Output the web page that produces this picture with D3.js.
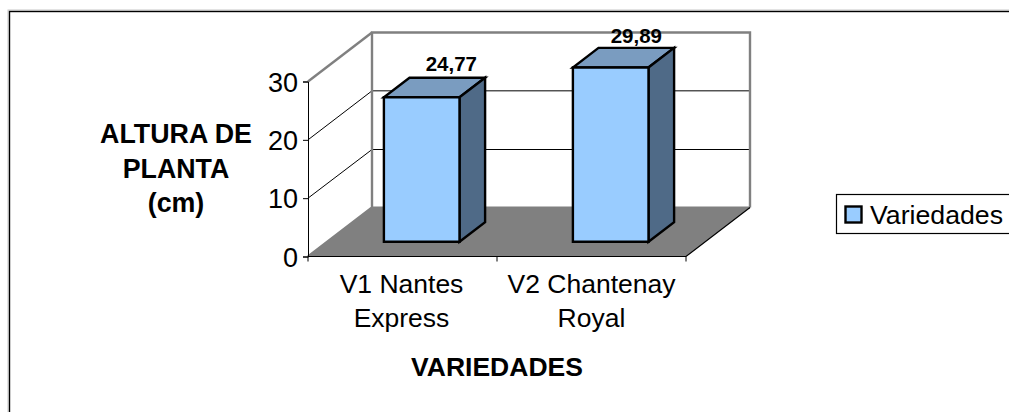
<!DOCTYPE html>
<html>
<head>
<meta charset="utf-8">
<script src="https://cdn.jsdelivr.net/npm/d3@7/dist/d3.min.js"></script>
<style>
  html, body { margin: 0; padding: 0; background: #fff; }
  svg { display: block; }
  text { font-family: "Liberation Sans", Arial, sans-serif; fill: #000; }
</style>
</head>
<body>
<div id="chart-area"></div>
<script>
var categories = [["V1 Nantes", "Express"], ["V2 Chantenay", "Royal"]];
var values = [24.77, 29.89];
var valueLabels = ["24,77", "29,89"];
var yTicks = [0, 10, 20, 30];
var yTitle = ["ALTURA DE", "PLANTA", "(cm)"];
var xTitle = "VARIEDADES";
var seriesName = "Variedades";

var width = 1009, height = 412;

var svg = d3.select("#chart-area").append("svg")
    .attr("width", width)
    .attr("height", height);

// chart border, runs off the right and bottom of the picture
svg.append("rect")
    .attr("x", 8).attr("y", 10)
    .attr("width", 1100).attr("height", 500)
    .attr("fill", "none").attr("stroke", "#c8c8c8").attr("stroke-width", 1);
svg.append("rect")
    .attr("x", 9.5).attr("y", 11.5)
    .attr("width", 1100).attr("height", 500)
    .attr("fill", "#fff").attr("stroke", "#000").attr("stroke-width", 1.4);

var x = d3.scaleBand()
    .domain(d3.range(categories.length))
    .range([308, 686])
    .paddingInner(0).paddingOuter(0);

var y = d3.scaleLinear().domain([0, 30]).range([256.5, 81.5]);

// the 3d depth: 0 is the front of the floor, 1 the back wall
var depthX = d3.scaleLinear().domain([0, 1]).range([0, 64]);
var depthY = d3.scaleLinear().domain([0, 1]).range([0, -49]);

function pt(px, v, d) {
  return [px + depthX(d), y(v) + depthY(d)];
}
var poly = function(points) { return points.map(function(p) { return p.join(","); }).join(" "); };

var x0 = x.range()[0], x1 = x.range()[1];

// back wall and floor
svg.append("polygon")
    .attr("points", poly([pt(x0, 0, 0), pt(x1, 0, 0), pt(x1, 0, 1), pt(x0, 0, 1)]))
    .attr("fill", "#808080");

// gridlines, the 10 line sits crisp on the pixel grid, the 20 one does not
[10, 20].forEach(function(t) {
  var a = pt(x0, t, 0), b = pt(x0, t, 1), c = pt(x1, t, 1);
  if (t === 10) { b[1] = Math.floor(b[1]) + 0.5; c[1] = b[1]; }
  svg.append("polyline")
      .attr("points", poly([a, b, c]))
      .attr("fill", "none").attr("stroke", "#000").attr("stroke-width", 1);
});

svg.append("polyline")
    .attr("points", poly([pt(x0, 0, 0), pt(x0, 0, 1), pt(x0, 30, 1), pt(x1, 30, 1), pt(x1, 0, 1)]))
    .attr("fill", "none").attr("stroke", "#808080").attr("stroke-width", 2.4);
svg.append("line")
    .attr("x1", pt(x0, 30, 0)[0]).attr("y1", pt(x0, 30, 0)[1])
    .attr("x2", pt(x0, 30, 1)[0]).attr("y2", pt(x0, 30, 1)[1])
    .attr("stroke", "#808080").attr("stroke-width", 2.4);
svg.append("line")
    .attr("x1", pt(x0, 0, 1)[0]).attr("y1", pt(x0, 0, 1)[1])
    .attr("x2", x1 + depthX(1)).attr("y2", pt(x0, 0, 1)[1])
    .attr("stroke", "#808080").attr("stroke-width", 2);

// front edges of the floor
svg.append("polyline")
    .attr("points", poly([pt(x0, 0, 0), pt(x1, 0, 0), pt(x1, 0, 1)]))
    .attr("fill", "none").attr("stroke", "#000").attr("stroke-width", 1.2);

// axes
var yAxis = d3.axisLeft(y).tickValues(yTicks).tickSize(5).tickPadding(5);
var gy = svg.append("g").attr("transform", "translate(" + x0 + ",0)").call(yAxis);
gy.select(".domain").attr("stroke", "#000").attr("stroke-width", 1);
gy.selectAll("text").style("font-size", "27px")
    .attr("font-family", null).attr("dy", "0.36em");

var xTickPos = [0, 1, 2].map(function(i) { return i === 2 ? x1 : x(i); });
svg.append("g").selectAll("line").data(xTickPos).enter().append("line")
    .attr("x1", function(d) { return d; }).attr("x2", function(d) { return d; })
    .attr("y1", y(0)).attr("y2", y(0) + 5)
    .attr("stroke", "#000");

// bars
var barFront = 0.3, barBack = 0.7, barPad = 0.3;
var bars = svg.append("g").selectAll("g").data(values).enter().append("g");

function barX(i) { return x(i) + x.bandwidth() * barPad; }
function barW() { return x.bandwidth() * (1 - 2 * barPad); }

bars.append("polygon") // top
    .attr("points", function(d, i) {
      var l = barX(i), r = l + barW();
      return poly([pt(l, d, barFront), pt(r, d, barFront), pt(r, d, barBack), pt(l, d, barBack)]);
    })
    .attr("fill", "#7a9cc0");
bars.append("polygon") // side
    .attr("points", function(d, i) {
      var r = barX(i) + barW();
      return poly([pt(r, 0, barFront), pt(r, d, barFront), pt(r, d, barBack), pt(r, 0, barBack)]);
    })
    .attr("fill", "#4f6a87");
bars.append("polygon") // front
    .attr("points", function(d, i) {
      var l = barX(i), r = l + barW();
      return poly([pt(l, 0, barFront), pt(r, 0, barFront), pt(r, d, barFront), pt(l, d, barFront)]);
    })
    .attr("fill", "#99ccff");
bars.selectAll("polygon")
    .attr("stroke", "#000").attr("stroke-width", 2.4).attr("stroke-linejoin", "miter");

// value labels
svg.append("g").selectAll("text").data(values).enter().append("text")
    .attr("x", function(d, i) { return pt(barX(i) + barW() / 2, d, barBack)[0] + (i === 0 ? 4 : 0); })
    .attr("y", function(d, i) { return pt(0, d, barBack)[1] - (i === 0 ? 7 : 5); })
    .attr("text-anchor", "middle")
    .style("font-size", "20.5px").style("font-weight", "bold")
    .text(function(d, i) { return valueLabels[i]; });

// category labels
var catLabels = svg.append("g").selectAll("text").data(categories).enter().append("text")
    .attr("text-anchor", "middle")
    .style("font-size", "26.5px");
catLabels.selectAll("tspan").data(function(d, i) {
      return d.map(function(s) { return {s: s, i: i}; });
    }).enter().append("tspan")
    .attr("x", function(d) { return x(d.i) + x.bandwidth() / 2 - (d.i === 0 ? 1 : 0); })
    .attr("y", function(d, j) { return 293 + j * 34; })
    .text(function(d) { return d.s; });

// axis titles
svg.append("g").selectAll("text").data(yTitle).enter().append("text")
    .attr("x", 176)
    .attr("y", function(d, i) { return 143 + i * 34.5; })
    .attr("text-anchor", "middle")
    .style("font-size", "26.8px").style("font-weight", "bold")
    .text(function(d) { return d; });

svg.append("text")
    .attr("x", 497).attr("y", 376)
    .attr("text-anchor", "middle")
    .style("font-size", "26.5px").style("font-weight", "bold")
    .text(xTitle);

// legend
svg.append("rect")
    .attr("x", 836.5).attr("y", 194.5)
    .attr("width", 200).attr("height", 39)
    .attr("fill", "#fff").attr("stroke", "#000").attr("stroke-width", 1.2);
svg.append("rect")
    .attr("x", 845.5).attr("y", 206.5)
    .attr("width", 16).attr("height", 16)
    .attr("fill", "#99ccff").attr("stroke", "#000").attr("stroke-width", 2.4);
svg.append("text")
    .attr("x", 870).attr("y", 223.5)
    .style("font-size", "26.7px")
    .text(seriesName);
</script>
</body>
</html>
